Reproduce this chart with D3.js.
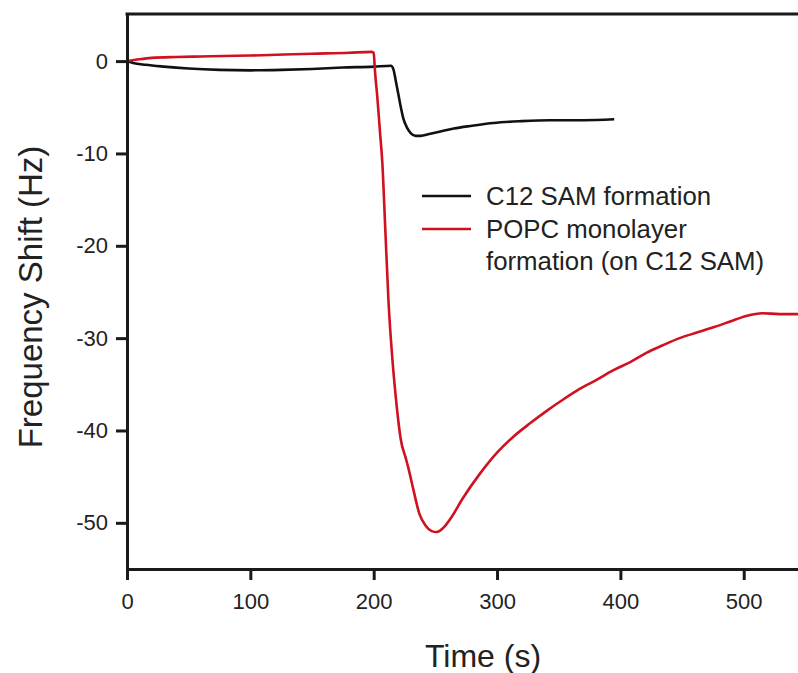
<!DOCTYPE html>
<html>
<head>
<meta charset="utf-8">
<script src="https://cdn.jsdelivr.net/npm/d3@7"></script>
<style>
  body { margin: 0; background: #fff; }
  svg { display: block; font-family: "Liberation Sans", Arial, sans-serif; }
  .axis path, .axis line { stroke: #1a1a1a; stroke-width: 3; }
  .axis text { font-size: 22px; fill: #222; }
</style>
</head>
<body>
<div id="chart"></div>
<script>
'use strict';

// C12 SAM formation (black trace)
var samTime = [0, 5, 15, 30, 50, 75, 100, 125, 150, 175, 200, 214, 216, 218, 220, 222, 224, 227, 230, 234, 238, 245, 255, 265, 280, 297, 320, 343, 370, 395];
var samShift = [0, -0.2, -0.4, -0.6, -0.8, -0.95, -1.0, -0.95, -0.85, -0.7, -0.6, -0.5, -0.9, -2.2, -3.6, -5.0, -6.2, -7.2, -7.8, -8.1, -8.1, -7.9, -7.6, -7.3, -7.0, -6.7, -6.5, -6.4, -6.4, -6.3];

// POPC monolayer formation on C12 SAM (red trace)
var popcTime = [0, 10, 20, 40, 60, 100, 150, 180, 198, 200, 201, 203, 205, 207, 209.5, 212, 215, 218, 220, 222, 226, 228, 232, 237, 242, 247, 251, 256, 263, 272, 286, 300, 313, 327, 340, 353, 367, 381, 394, 408, 421, 434, 448, 462, 476, 489, 502, 515, 529, 544];
var popcShift = [0, 0.2, 0.35, 0.45, 0.5, 0.6, 0.8, 0.9, 1.0, 0.9, -1, -4, -7.5, -11, -18.5, -26, -32, -36.5, -39, -41, -43, -44, -46.3, -49, -50.3, -50.9, -51.0, -50.6, -49.4, -47.4, -44.7, -42.4, -40.7, -39.2, -37.9, -36.7, -35.5, -34.5, -33.5, -32.6, -31.6, -30.8, -30.0, -29.4, -28.8, -28.2, -27.6, -27.3, -27.4, -27.4];

var xTicks = [0, 100, 200, 300, 400, 500];
var yTicks = [0, -10, -20, -30, -40, -50];

var seriesNames = ['C12 SAM formation', 'POPC monolayer|formation (on C12 SAM)'];
var seriesColors = ['#111111', '#d0111f'];

var width = 798,
    height = 673;

var margin = {top: 14, right: 0, bottom: 104, left: 127};

var svg = d3.select('#chart').append('svg')
    .attr('width', width)
    .attr('height', height);

var x = d3.scaleLinear()
    .domain([0, 544])
    .range([margin.left, width - margin.right]);

var y = d3.scaleLinear()
    .domain([-55, 5.1])
    .range([height - margin.bottom, margin.top]);

svg.append('defs').append('clipPath')
    .attr('id', 'plotclip')
  .append('rect')
    .attr('x', margin.left)
    .attr('y', margin.top)
    .attr('width', width - margin.left)
    .attr('height', height - margin.bottom - margin.top);

var line = d3.line()
    .x(function(d){ return x(d[0]); })
    .y(function(d){ return y(d[1]); })
    .curve(d3.curveMonotoneX);

var samData = samTime.map(function(t, i){ return [t, samShift[i]]; });
var popcData = popcTime.map(function(t, i){ return [t, popcShift[i]]; });

var plot = svg.append('g').attr('clip-path', 'url(#plotclip)');

plot.append('path')
    .datum(samData)
    .attr('fill', 'none')
    .attr('stroke', seriesColors[0])
    .attr('stroke-width', 2.6)
    .attr('stroke-linejoin', 'round')
    .attr('d', line);

plot.append('path')
    .datum(popcData)
    .attr('fill', 'none')
    .attr('stroke', seriesColors[1])
    .attr('stroke-width', 2.6)
    .attr('stroke-linejoin', 'round')
    .attr('d', line);

// top frame line
svg.append('line')
    .attr('x1', margin.left - 1.5)
    .attr('x2', width)
    .attr('y1', margin.top)
    .attr('y2', margin.top)
    .attr('stroke', '#1a1a1a')
    .attr('stroke-width', 3);

svg.append('g')
    .attr('class', 'axis')
    .attr('transform', 'translate(0,' + (height - margin.bottom) + ')')
    .call(d3.axisBottom(x).tickValues(xTicks).tickSize(11).tickSizeOuter(0).tickPadding(13));

svg.append('g')
    .attr('class', 'axis')
    .attr('transform', 'translate(' + margin.left + ',0)')
    .call(d3.axisLeft(y).tickValues(yTicks).tickSize(11).tickSizeOuter(0).tickPadding(8)
      .tickFormat(function(d){ return d < 0 ? '-' + Math.abs(d) : d; }));

// axis titles
svg.append('text')
    .attr('x', 483)
    .attr('y', 667)
    .attr('text-anchor', 'middle')
    .attr('font-size', 32)
    .attr('fill', '#222')
    .text('Time (s)');

svg.append('text')
    .attr('transform', 'translate(42,297) rotate(-90)')
    .attr('text-anchor', 'middle')
    .attr('font-size', 33)
    .attr('fill', '#222')
    .text('Frequency Shift (Hz)');

// legend
var legend = svg.append('g').attr('transform', 'translate(422,196)');

seriesNames.forEach(function(name, i){
  var g = legend.append('g').attr('transform', 'translate(0,' + (i * 33) + ')');
  g.append('line')
      .attr('x1', 0)
      .attr('x2', 49)
      .attr('stroke', seriesColors[i])
      .attr('stroke-width', 2.6);
  var t = g.append('text')
      .attr('x', 64)
      .attr('y', 9)
      .attr('font-size', 25.8)
      .attr('fill', '#222');
  name.split('|').forEach(function(part, j){
    t.append('tspan')
      .attr('x', 64)
      .attr('dy', j === 0 ? 0 : 32)
      .text(part);
  });
});
</script>
</body>
</html>
